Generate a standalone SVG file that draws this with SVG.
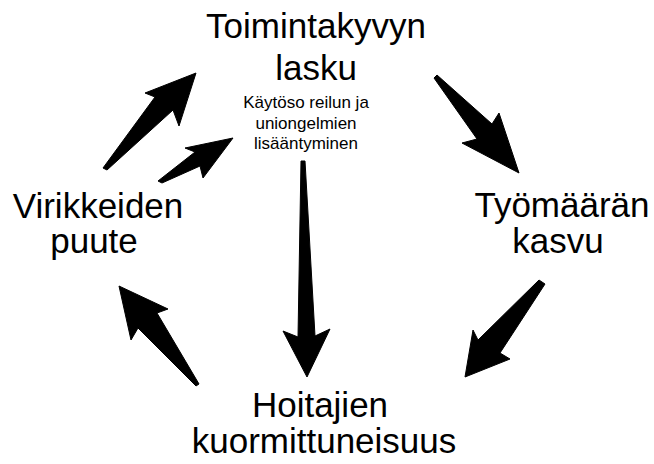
<svg xmlns="http://www.w3.org/2000/svg" width="654" height="464" viewBox="0 0 654 464">
  <style>
    .big { font-family: "Liberation Sans", Arial, sans-serif; font-size: 35px; fill: #000; text-anchor: middle; }
    .small { font-family: "Liberation Sans", Arial, sans-serif; font-size: 17px; fill: #000; text-anchor: middle; }
    .arrow { fill: #000; stroke: #000; stroke-width: 1; stroke-linejoin: miter; }
  </style>
  <rect width="654" height="464" fill="#fff"/>

  <g id="toimintakyvyn-lasku">
    <text class="big" x="316" y="38">Toimintakyvyn</text>
    <text class="big" x="316" y="80">lasku</text>
    <text class="small" x="306" y="108">Käytöso reilun ja</text>
    <text class="small" x="306" y="129">uniongelmien</text>
    <text class="small" x="306" y="149">lisääntyminen</text>
  </g>

  <g id="tyomaaran-kasvu">
    <text class="big" x="562" y="217">Työmäärän</text>
    <text class="big" x="558" y="253">kasvu</text>
  </g>

  <g id="hoitajien-kuormittuneisuus">
    <text class="big" x="320" y="417">Hoitajien</text>
    <text class="big" x="324" y="453">kuormittuneisuus</text>
  </g>

  <g id="virikkeiden-puute">
    <text class="big" x="98" y="218">Virikkeiden</text>
    <text class="big" x="94" y="253">puute</text>
  </g>

  <g id="connectors">
    <!-- Toimintakyvyn lasku -> Työmäärän kasvu -->
    <polygon class="arrow" points="434,78 437,75 492,124 499,113 519,173 462,143 477,139"/>
    <!-- Työmäärän kasvu -> Hoitajien kuormittuneisuus -->
    <polygon class="arrow" points="539,280 545,284 500,353 510,359 465,377 473,330 478,340"/>
    <!-- Toimintakyvyn lasku -> Hoitajien kuormittuneisuus -->
    <polygon class="arrow" points="301,161 305,161 315,336 330,329 307,377 283,331 298,337"/>
    <!-- Hoitajien kuormittuneisuus -> Virikkeiden puute -->
    <polygon class="arrow" points="119,286 168,309 157,313 199,384 196,386 138,328 131,340"/>
    <!-- Virikkeiden puute -> Toimintakyvyn lasku -->
    <polygon class="arrow" points="196,73 179,126 173,110 107,170 103,168 155,97 145,93"/>
    <!-- Virikkeiden puute -> käytösoireilu -->
    <polygon class="arrow" points="233,138 203,178 200,166 162,183 158,181 195,152 185,148"/>
  </g>
</svg>
